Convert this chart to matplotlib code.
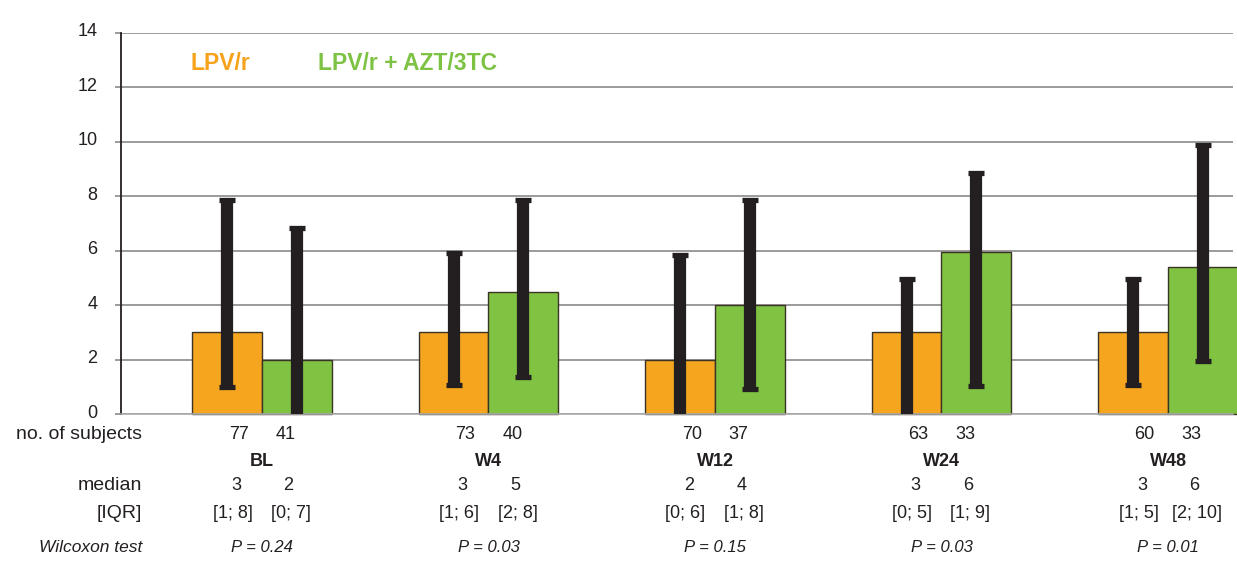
import matplotlib
matplotlib.use("Agg")
import matplotlib.pyplot as plt
import matplotlib.transforms as mtransforms
import numpy as np

plt.rcParams['font.family'] = ['Liberation Sans', 'DejaVu Sans']

# data
visits = ['BL', 'W4', 'W12', 'W24', 'W48']
lpv_median = [3, 3, 2, 3, 3]
combo_median = [2, 4.5, 4, 5.95, 5.4]
lpv_low = [1.0, 1.05, 0, 0, 1.05]
lpv_high = [7.85, 5.9, 5.85, 4.97, 4.97]
combo_low = [0, 1.37, 0.93, 1.03, 1.94]
combo_high = [6.85, 7.88, 7.88, 8.84, 9.87]

n_lpv = ['77', '73', '70', '63', '60']
n_combo = ['41', '40', '37', '33', '33']
med_lpv = ['3', '3', '2', '3', '3']
med_combo = ['2', '5', '4', '6', '6']
iqr_lpv = ['[1; 8]', '[1; 6]', '[0; 6]', '[0; 5]', '[1; 5]']
iqr_combo = ['[0; 7]', '[2; 8]', '[1; 8]', '[1; 9]', '[2; 10]']
p_values = ['P = 0.24', 'P = 0.03', 'P = 0.15', 'P = 0.03', 'P = 0.01']

ORANGE = '#F6A51F'
GREEN = '#80C342'
DARK = '#231F20'
W, H = 1237, 563

fig = plt.figure(figsize=(W / 100, H / 100), dpi=100)
ax = fig.add_axes([121 / W, 1 - 414 / H, (1233 - 121) / W, (414 - 33) / H])

x = np.arange(len(visits))
bw = 0.307
ax.bar(x - bw, lpv_median, bw, align='edge', color=ORANGE, edgecolor='#3a3326',
       linewidth=1, zorder=2, clip_on=False)
ax.bar(x, combo_median, bw, align='edge', color=GREEN, edgecolor='#3a3326',
       linewidth=1, zorder=2, clip_on=False)

# IQR whiskers
for xs, lo, hi in [(x - bw / 2, lpv_low, lpv_high), (x + bw / 2, combo_low, combo_high)]:
    lo = np.array(lo)
    hi = np.array(hi)
    ax.vlines(xs, lo, hi, color=DARK, linewidth=8.8, zorder=3, clip_on=False)
    ax.plot(xs, hi, ls='none', marker='_', ms=11.8, mew=3.8, color=DARK, zorder=4, clip_on=False)
    m = lo > 0
    ax.plot(xs[m], lo[m], ls='none', marker='_', ms=11.8, mew=3.8, color=DARK, zorder=4)

ax.set_xlim(-0.6225, 4.287)
ax.set_ylim(0, 14)
ax.set_yticks(range(0, 15, 2))
ax.set_xticks([])
ax.set_axisbelow(True)
ax.yaxis.grid(True, color='#8a8a8a', linewidth=1.2)
ax.tick_params(axis='y', length=4, width=1.2, color='#8a8a8a', pad=13, labelsize=13,
               labelcolor='#231F20')
shift = mtransforms.ScaledTranslation(0, 3 / 100, fig.dpi_scale_trans)
for lab in ax.get_yticklabels():
    lab.set_transform(lab.get_transform() + shift)
for s in ['top', 'right']:
    ax.spines[s].set_visible(False)
ax.spines['left'].set_color('#231F20')
ax.spines['left'].set_linewidth(1.3)
ax.spines['bottom'].set_color('#aaaaaa')
ax.spines['bottom'].set_linewidth(1.2)

# legend labels
fig.text(190 / W, 1 - 63 / H, 'LPV/r', color='#F7A21B', fontsize=16.5, fontweight='bold', va='center')
fig.text(318 / W, 1 - 63 / H, 'LPV/r + AZT/3TC', color='#7DC242', fontsize=16.5,
         fontweight='bold', va='center')

# table under the chart
tr = mtransforms.blended_transform_factory(ax.transData, fig.transFigure)
rows = [('no. of subjects', 434.5, 'normal'), ('median', 486, 'normal'),
        ('[IQR]', 513, 'normal'), ('Wilcoxon test', 547.5, 'italic')]
for label, ypx, style in rows:
    fig.text(142 / W, 1 - ypx / H, label, ha='right', va='center', fontsize=14 if style == 'normal' else 12.5,
             style=style, color='#231F20')

fs = 13
for i in range(len(visits)):
    ax.text(x[i] - 0.103, 1 - 434.5 / H, n_lpv[i], transform=tr, ha='center', va='center', fontsize=fs, color='#231F20')
    ax.text(x[i] + 0.105, 1 - 434.5 / H, n_combo[i], transform=tr, ha='center', va='center', fontsize=fs, color='#231F20')
    ax.text(x[i], 1 - 461.5 / H, visits[i], transform=tr, ha='center', va='center', fontsize=fs,
            fontweight='bold', color='#231F20')
    ax.text(x[i] - 0.115, 1 - 486 / H, med_lpv[i], transform=tr, ha='center', va='center', fontsize=fs, color='#231F20')
    ax.text(x[i] + 0.117, 1 - 486 / H, med_combo[i], transform=tr, ha='center', va='center', fontsize=fs, color='#231F20')
    ax.text(x[i] - 0.13, 1 - 513 / H, iqr_lpv[i], transform=tr, ha='center', va='center', fontsize=fs, color='#231F20')
    ax.text(x[i] + 0.128, 1 - 513 / H, iqr_combo[i], transform=tr, ha='center', va='center', fontsize=fs, color='#231F20')
    ax.text(x[i], 1 - 547.5 / H, p_values[i], transform=tr, ha='center', va='center', fontsize=12,
            style='italic', color='#231F20')

fig.savefig('out.png', dpi=100)
